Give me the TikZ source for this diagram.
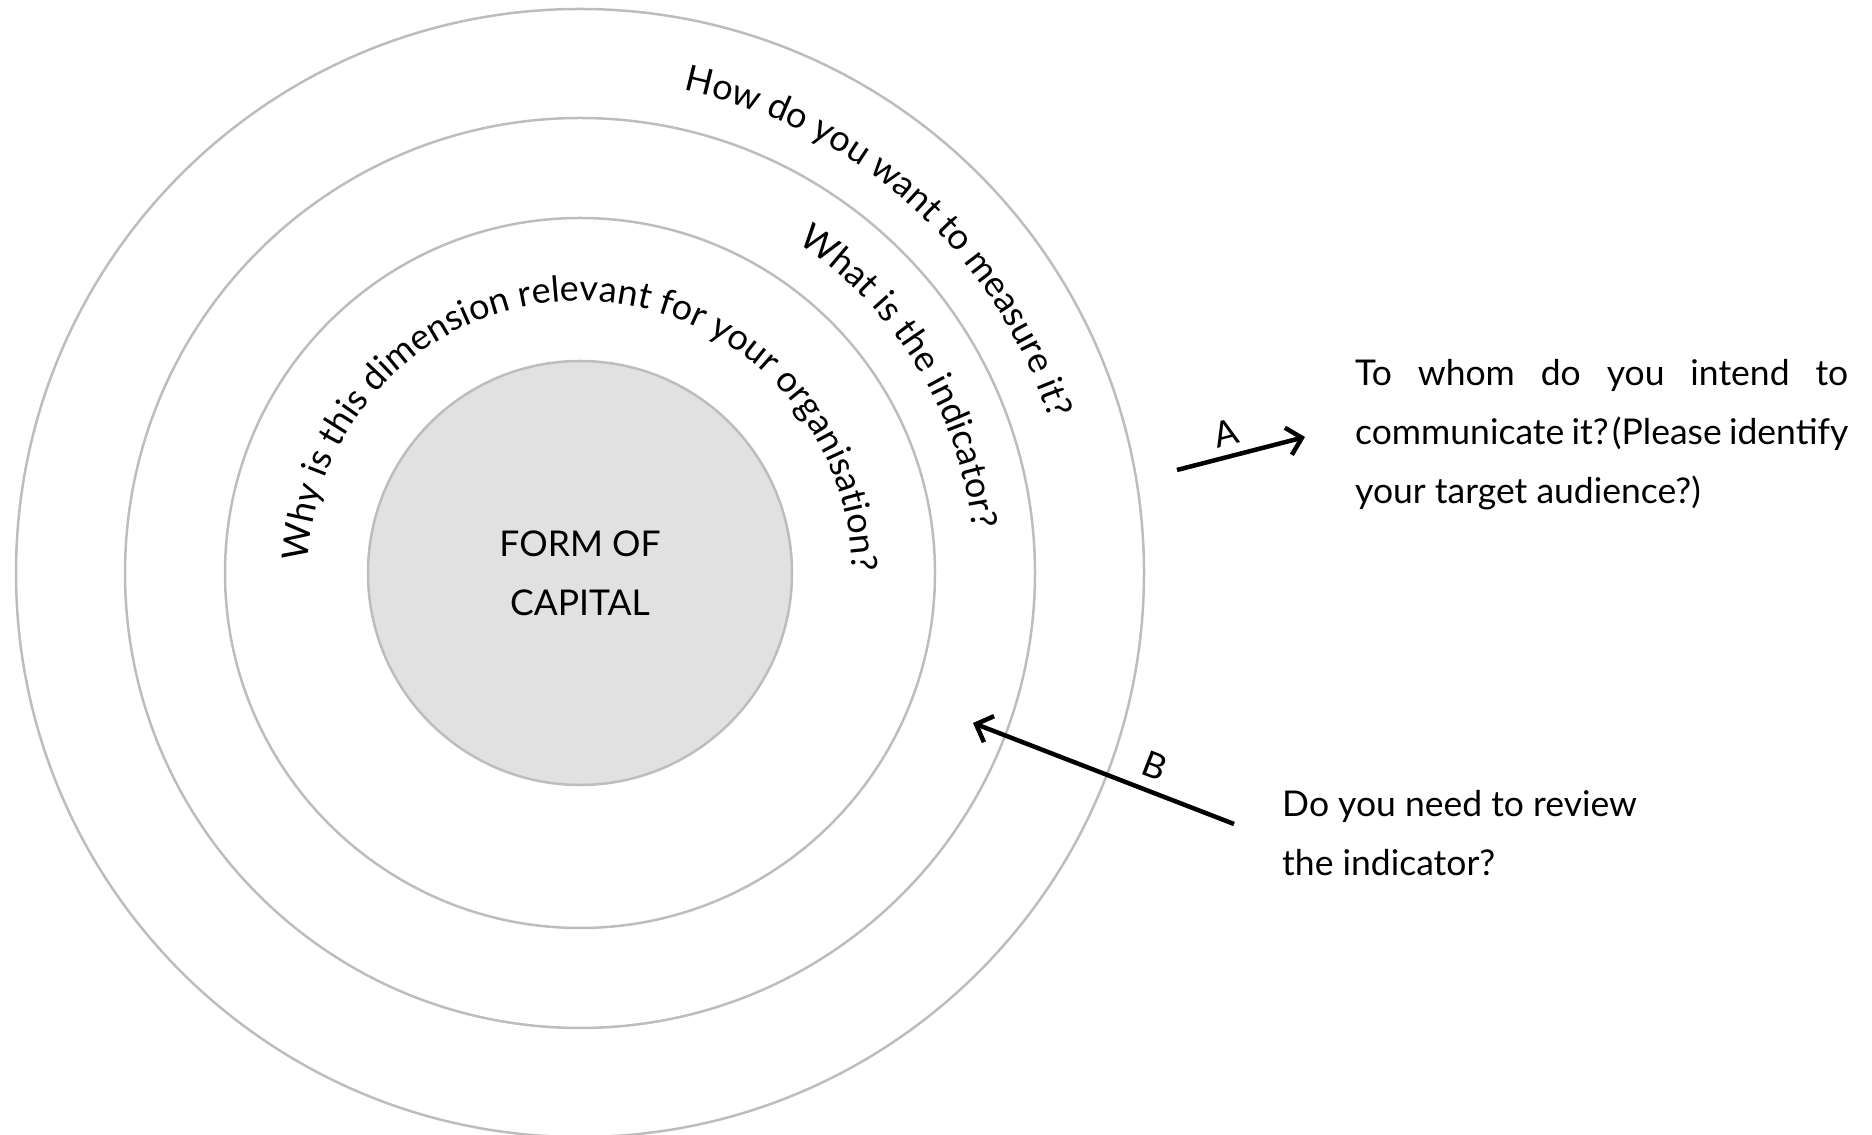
\documentclass[tikz,border=0pt]{standalone}
\usepackage{fontspec}
\setmainfont{Lato}
\usetikzlibrary{positioning,calc,arrows.meta,decorations.text}

\definecolor{ringgray}{HTML}{BDBDBD}
\definecolor{coregray}{HTML}{E1E1E1}

\tikzset{
  ring/.style={draw=ringgray,line width=2.5pt},
  question/.style={font=\fontsize{35.5}{59}\selectfont,inner sep=0pt},
  tag/.style={font=\fontsize{35.5}{40}\selectfont,inner sep=0pt,sloped},
  pointer/.style={line width=4.5pt},
  barb/.tip={Straight Barb[length=14pt,width=28pt]},
  curved/.style={decorate,decoration={text along path,text align=center,
      text={|\fontsize{36}{40}\selectfont|#1}}}
}

\begin{document}
\begin{tikzpicture}[x=1pt,y=1pt]
  \useasboundingbox (0,0) rectangle (1872,1135);
  \coordinate (C) at (580,562);
  % rings, outermost first
  \foreach \R in {564,455,355}
    \draw[ring] (C) circle[radius=\R];
  \draw[ring,fill=coregray] (C) circle[radius=212];
  \node[question,align=center] (core) at (C) {FORM OF\\CAPITAL};
  % questions written along the rings
  \path[curved={How do you want to measure it?}]
    ($(C)+(98:494)$) arc[start angle=98,end angle=-2,radius=494];
  \path[curved={What is the indicator?}]
    ($(C)+(80:395)$) arc[start angle=80,end angle=-17,radius=395];
  \path[curved={Why is this dimension relevant for your organisation?}]
    ($(C)+(189:272)$) arc[start angle=189,end angle=-11,radius=272];
  % questions outside
  \node[question,text width=493pt,align=justify,anchor=west] (reach) at (1355,700)
    {\hyphenpenalty=10000 To whom do you intend to\linebreak
     communicate it?\hspace{.1em}(Please identify\linebreak
     your target audience?)};
  \node[question,align=left,anchor=west] (review) at (1282,302)
    {Do you need to review\\the indicator?};
  % arrows
  \coordinate (A-tail) at (1177,665);
  \coordinate (A-head) at (1305,698);
  \draw[pointer,-barb] (A-tail) -- node[tag,pos=0.43,above=8pt] {A} (A-head);
  \coordinate (B-tail) at (1234,311);
  \coordinate (B-head) at (973,412);
  \draw[pointer,barb-] (B-head) -- node[tag,pos=0.66,above=11pt] {B} (B-tail);
\end{tikzpicture}
\end{document}
